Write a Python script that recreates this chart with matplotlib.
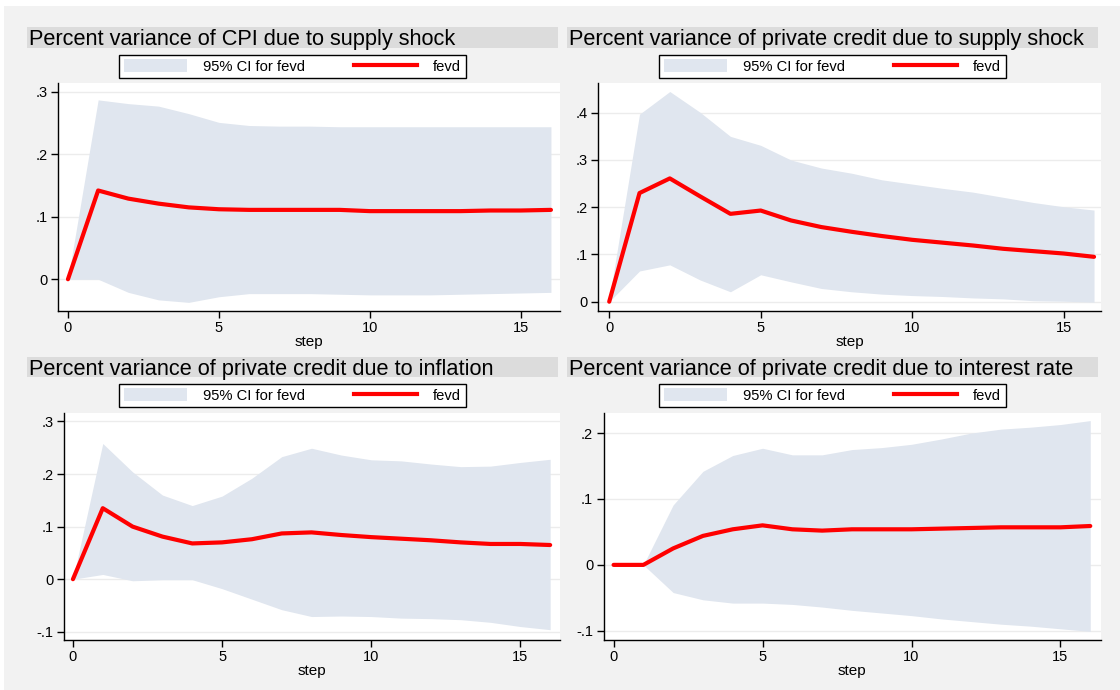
import matplotlib
matplotlib.use("Agg")
import matplotlib.pyplot as plt
from matplotlib.patches import Rectangle, Patch
from matplotlib.lines import Line2D
from matplotlib.ticker import FuncFormatter
import numpy as np

plt.rcParams['font.family'] = ['Liberation Sans', 'DejaVu Sans']

steps = list(range(17))

# panel 1: CPI due to supply shock
cpi_fevd = [0, .142, .129, .121, .115, .112, .111, .111, .111, .111, .109, .109, .109, .109, .110, .110, .111]
cpi_hi = [0, .287, .281, .277, .265, .251, .246, .245, .245, .244, .244, .244, .244, .244, .244, .244, .244]
cpi_lo = [0, 0, -.021, -.033, -.037, -.028, -.023, -.023, -.023, -.024, -.025, -.025, -.025, -.024, -.023, -.022, -.021]

# panel 2: private credit due to supply shock
sup_fevd = [0, .230, .261, .223, .186, .193, .172, .158, .148, .139, .131, .125, .119, .112, .107, .102, .095]
sup_hi = [.005, .397, .445, .401, .350, .331, .300, .283, .272, .258, .249, .240, .232, .221, .210, .201, .194]
sup_lo = [0, .065, .078, .046, .021, .057, .042, .028, .021, .016, .013, .011, .008, .006, .002, .001, -.001]

# panel 3: private credit due to inflation
inf_fevd = [0, .135, .100, .081, .068, .070, .076, .087, .089, .084, .080, .077, .074, .070, .067, .067, .065]
inf_hi = [0, .258, .204, .160, .140, .158, .192, .233, .249, .236, .227, .225, .219, .214, .215, .222, .228]
inf_lo = [0, .009, -.003, -.001, -.001, -.018, -.038, -.058, -.071, -.070, -.071, -.074, -.075, -.077, -.082, -.090, -.096]

# panel 4: private credit due to interest rate
int_fevd = [0, 0, .025, .044, .054, .060, .054, .052, .054, .054, .054, .055, .056, .057, .057, .057, .059]
int_hi = [0, 0, .091, .142, .166, .177, .167, .167, .175, .178, .183, .191, .200, .206, .209, .213, .219]
int_lo = [0, 0, -.042, -.053, -.058, -.058, -.060, -.064, -.069, -.073, -.077, -.082, -.086, -.090, -.093, -.097, -.101]

titles = ["Percent variance of CPI due to supply shock",
          "Percent variance of private credit due to supply shock",
          "Percent variance of private credit due to inflation",
          "Percent variance of private credit due to interest rate"]
yticks = [[0, .1, .2, .3], [0, .1, .2, .3, .4], [-.1, 0, .1, .2, .3], [-.1, 0, .1, .2]]
series = [(cpi_fevd, cpi_lo, cpi_hi), (sup_fevd, sup_lo, sup_hi),
          (inf_fevd, inf_lo, inf_hi), (int_fevd, int_lo, int_hi)]

W, H = 1120, 690
fig = plt.figure(figsize=(11.2, 6.9), dpi=100, facecolor='white')
fig.patches.append(Rectangle((4 / W, 0), 1, 1 - 6 / H, transform=fig.transFigure,
                             facecolor='#f2f2f2', edgecolor='none', zorder=-10))

# layout in pixels: axes (left, right, top, bottom), title band (left, right, top, bottom)
ax_px = [(58, 560, 83, 311), (598, 1101, 83, 311), (64, 560, 413, 640), (603.6, 1101, 413, 640)]
band_px = [(27, 558, 27, 48), (567, 1098, 27, 48), (27, 558, 357, 377), (567, 1098, 357, 377)]
xlims = [(-0.33, 16.3), (-0.37, 16.23), (-0.3, 16.33), (-0.335, 16.36)]
ylims = [(-0.0508, 0.314), (-0.0197, 0.463), (-0.1156, 0.316), (-0.114, 0.2305)]

band_col = '#e0e6ef'


def stata_fmt(v, pos):
    if abs(v) < 1e-9:
        return "0"
    s = "%g" % round(v, 3)
    return s.replace("0.", ".")


for i in range(4):
    l, r, t, b = ax_px[i]
    ax = fig.add_axes([l / W, 1 - b / H, (r - l) / W, (b - t) / H])
    ax.set_facecolor('white')
    fevd, lo, hi = series[i]
    ax.fill_between(steps, lo, hi, color=band_col, lw=0, zorder=1)
    ax.plot(steps, fevd, color='red', lw=3, zorder=3, solid_capstyle='round')
    ax.set_xlim(*xlims[i])
    ax.set_ylim(*ylims[i])
    ax.set_xticks([0, 5, 10, 15])
    ax.set_yticks(yticks[i])
    ax.yaxis.set_major_formatter(FuncFormatter(stata_fmt))
    ax.grid(axis='y', color='#ececec', lw=1, zorder=0)
    ax.set_axisbelow(True)
    for s in ['top', 'right']:
        ax.spines[s].set_visible(False)
    for s in ['left', 'bottom']:
        ax.spines[s].set_linewidth(1)
        ax.spines[s].set_color('black')
    ax.tick_params(labelsize=10.5, length=5, width=1, direction='out', pad=2.5)
    ax.set_xlabel("step", fontsize=11, labelpad=0)

    bl, br, bt, bb = band_px[i]
    fig.patches.append(Rectangle((bl / W, 1 - bb / H), (br - bl) / W, (bb - bt) / H,
                                 transform=fig.transFigure, facecolor='#dcdcdc',
                                 edgecolor='none', zorder=-5))
    fig.text((bl + 2) / W, 1 - (bt + bb) / 2 / H, titles[i], fontsize=15.7,
             ha='left', va='center_baseline')

    handles = [Patch(facecolor=band_col, edgecolor='none'),
               Line2D([0], [0], color='red', lw=3)]
    cx = (bl + br) / 2
    cy = bb + 18.5
    fig.legend(handles, ["95% CI for fevd", "fevd"], loc='center',
               bbox_to_anchor=(cx / W, 1 - cy / H), ncol=2, fontsize=10.6,
               frameon=True, fancybox=False, edgecolor='black', facecolor='white',
               framealpha=1, handlelength=4.3, handleheight=0.9, handletextpad=1.1,
               columnspacing=3.3, borderpad=0.3)

fig.savefig("out.png", dpi=100, facecolor=fig.get_facecolor())
